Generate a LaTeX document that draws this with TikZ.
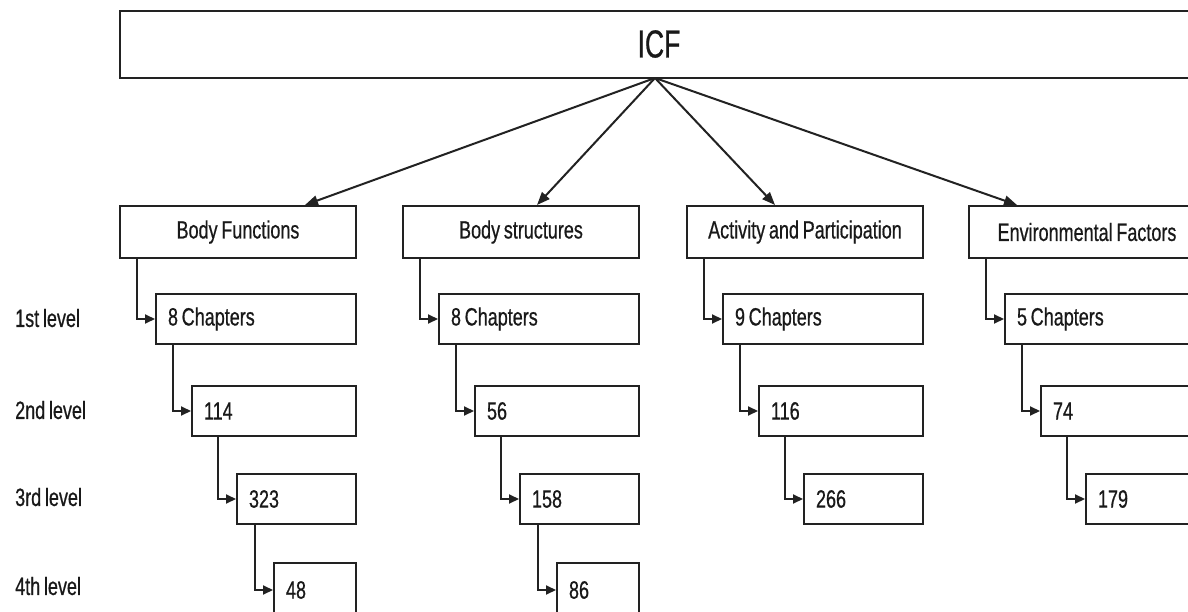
\documentclass[tikz,border=0pt]{standalone}
\usepackage{fontspec}
\setmainfont{Liberation Sans}[FakeStretch=0.72, WordSpace=0.75, FakeBold=0.6]
\newfontfamily\icffont{Liberation Sans}[FakeStretch=0.68, FakeBold=0.6]
\usetikzlibrary{arrows.meta}
\definecolor{ln}{HTML}{222222}
\begin{document}
\begin{tikzpicture}[x=1pt,y=-1pt,
  every node/.style={font=\fontsize{25}{28}\selectfont, text=black!90},
  cat/.style={draw=ln, line width=2pt, anchor=north west, minimum width=236pt, minimum height=52pt, inner sep=0pt},
  lvl/.style={draw=ln, line width=2pt, anchor=north west, align=flush left, inner xsep=12pt, inner ysep=0pt, text width=#1, minimum height=50pt},
  conn/.style={draw=ln, line width=2pt, -{Triangle[length=10pt,width=9pt]}},
  big/.style={draw=ln, line width=2pt, -{Triangle[length=13pt,width=10pt]}},
  lab/.style={anchor=west, inner sep=0pt}]
\useasboundingbox (0,0) rectangle (1188,612);
\clip (0,0) rectangle (1188,612);
\fill[white] (0,0) rectangle (1188,612);

% top box
\node[draw=ln, line width=2pt, anchor=north west, minimum width=1100pt, minimum height=67pt, inner sep=0pt] (icf) at (119,10) {};
\node (icft) at (659,44) {\icffont\fontsize{39}{40}\selectfont ICF};
\coordinate (src) at (655,78);

% level labels
\node[lab] (l1) at (15,318) {1st level};
\node[lab] (l2) at (15,410) {2nd level};
\node[lab] (l3) at (15,497) {3rd level};
\node[lab] (l4) at (15,586) {4th level};

% Body Functions column
\begin{scope}[xshift=119pt]
\node[cat] (bf) at (0,205) {Body Functions};
\node[lvl=176pt] (bf1) at (36,293) {8 Chapters};
\node[lvl=140pt] (bf2) at (72,385) {114};
\node[lvl=95pt] (bf3) at (117,473) {323};
\node[lvl=58pt, minimum height=54pt] (bf4) at (154,562) {48};
\end{scope}

% Body structures column
\begin{scope}[xshift=402pt]
\node[cat] (bs) at (0,205) {Body structures};
\node[lvl=176pt] (bs1) at (36,293) {8 Chapters};
\node[lvl=140pt] (bs2) at (72,385) {56};
\node[lvl=95pt] (bs3) at (117,473) {158};
\node[lvl=58pt, minimum height=54pt] (bs4) at (154,562) {86};
\end{scope}

% Activity and Participation column
\begin{scope}[xshift=686pt]
\node[cat] (ap) at (0,205) {Activity and Participation};
\node[lvl=176pt] (ap1) at (36,293) {9 Chapters};
\node[lvl=140pt] (ap2) at (72,385) {116};
\node[lvl=95pt] (ap3) at (117,473) {266};
\end{scope}

% Environmental Factors column
\begin{scope}[xshift=968pt]
\node[cat] (ef) at (0,205) {Environmental Factors};
\node[lvl=176pt] (ef1) at (36,293) {5 Chapters};
\node[lvl=140pt] (ef2) at (72,385) {74};
\node[lvl=95pt] (ef3) at (117,473) {179};
\end{scope}

% arrows from ICF
\draw[big] (src) -- ([xshift=186pt]bf.north west);
\draw[big] (src) -- ([xshift=135pt]bs.north west);
\draw[big] (src) -- ([xshift=89pt]ap.north west);
\draw[big] (src) -- ([xshift=49pt]ef.north west);

% level connectors
\foreach \c in {bf,bs,ap,ef}{
  \draw[conn] ([xshift=18pt]\c.south west) |- (\c1.west);
  \draw[conn] ([xshift=18pt]\c1.south west) |- (\c2.west);
  \draw[conn] ([xshift=27pt]\c2.south west) |- (\c3.west);
}
\foreach \c in {bf,bs}{
  \draw[conn] ([xshift=19pt]\c3.south west) |- (\c4.west);
}
\end{tikzpicture}
\end{document}
